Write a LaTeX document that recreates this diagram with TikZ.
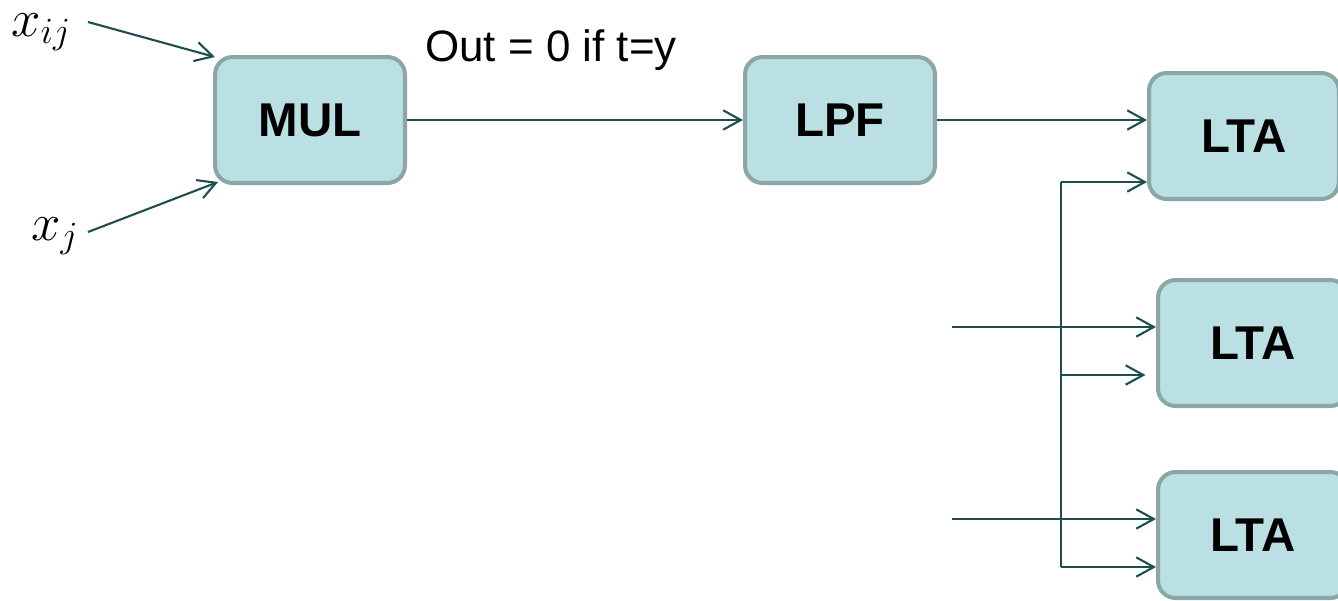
\RequirePackage{fix-cm}
\documentclass[tikz,border=0pt]{standalone}
\usepackage{fontspec}
\setmainfont{Liberation Sans}
\usetikzlibrary{arrows.meta}

\definecolor{boxfill}{HTML}{BAE0E3}
\definecolor{boxline}{HTML}{8CA6A8}
\definecolor{wire}{HTML}{1F4E50}

\begin{document}
\begin{tikzpicture}[x=0.02cm,y=-0.02cm,
		block/.style={draw=boxline, fill=boxfill, line width=2.3pt, rounded corners=10pt,
			minimum width=3.8cm, minimum height=2.52cm, font=\fontsize{27}{30}\selectfont\bfseries},
		link/.style={draw=wire, line width=1.2pt, -{Straight Barb[length=10pt,width=11pt,line width=1.2pt]}},
		wireline/.style={draw=wire, line width=1.2pt},
		inlabel/.style={inner sep=0pt, anchor=base west, font=\fontsize{30}{32}\selectfont}]
	\useasboundingbox (0,0) rectangle (1338,600);

	% blocks
	\node[block] (mul) at (310,120) {MUL};
	\node[block] (lpf) at (840,120) {LPF};
	\node[block] (lta1) at (1244,136) {LTA};
	\node[block] (lta2) at (1253,343) {LTA};
	\node[block] (lta3) at (1253,535) {LTA};

	% inputs and text
	\node[inlabel] (xij) at (11,36) {\(x_{ij}\)};
	\node[inlabel] (xj) at (31,240) {\(x_{j}\)};
	\node[font=\fontsize{25}{28}\selectfont] (cond) at (551,50) {Out = 0 if t=y};

	\coordinate (b1) at (1061,182);
	\coordinate (b2) at (1061,375);
	\coordinate (b3) at (1061,567);
	\coordinate (in2) at (952,327);
	\coordinate (in3) at (952,519);

	% connectors
	\draw[link] (88,22) -- ([shift={(2,2)}]mul.north west);
	\draw[link] (88,232) -- ([shift={(5,-3)}]mul.south west);
	\draw[link] (mul.east) -- (lpf.west);
	\draw[link] (lpf.east) -- (lpf.east -| lta1.west);
	\draw[wireline] (b1) -- (b3);
	\draw[link] (b1) -- (b1 -| lta1.west);
	\draw[link, shorten >=6pt] (b2) -- (b2 -| lta2.west);
	\draw[link] (b3) -- (b3 -| lta3.west);
	\draw[link] (in2) -- (in2 -| lta2.west);
	\draw[link] (in3) -- (in3 -| lta3.west);
\end{tikzpicture}
\end{document}
